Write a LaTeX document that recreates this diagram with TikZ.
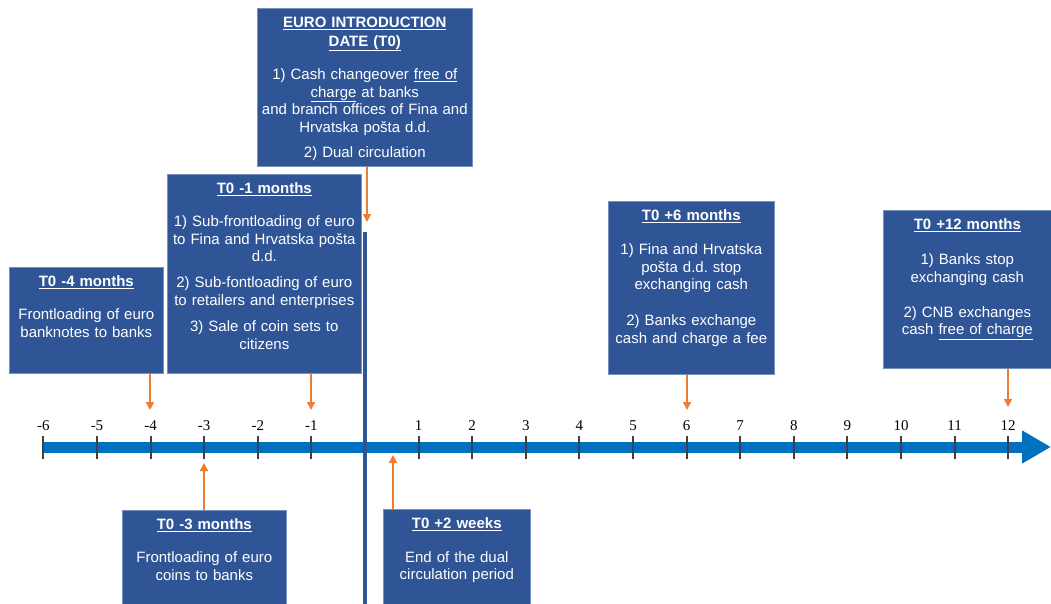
\documentclass[tikz,border=0pt]{standalone}
\usepackage{fontspec}
\setmainfont{Liberation Sans}
\newfontfamily\numfont{Liberation Serif}
\usetikzlibrary{arrows.meta}
\definecolor{azulcaja}{RGB}{47,85,151}
\definecolor{azuleje}{RGB}{0,112,192}
\definecolor{naranja}{RGB}{237,125,49}
\definecolor{gris}{RGB}{64,64,64}
\frenchspacing
\begin{document}
\begin{tikzpicture}[x=1pt,y=-1pt,
    caja/.style={fill=azulcaja,draw=azulcaja!65!white,line width=0.6pt,anchor=north west,inner sep=0pt},
    texto/.style={text=white,align=center,anchor=north,inner sep=0pt,font=\fontsize{15}{17.5}\selectfont},
    aviso/.style={draw=naranja,line width=1.6pt,-{Triangle[length=8pt,width=8pt]}},
    marca/.style={draw=gris,line width=2pt},
    numero/.style={font=\numfont\fontsize{15}{15}\selectfont,text=black,inner sep=0pt}]
\def\paso{53.6}
\def\cero{365}
\useasboundingbox (0,0) rectangle (1051,604);

    %Eje
    \coordinate (ini) at (43,447);
    \coordinate (fin) at (1051,447);
    \draw[azuleje,line width=11pt,-{Triangle[length=29pt,width=31pt]}] (ini) -- (fin);
    \foreach \k [evaluate={\xk=\cero+\k*\paso}] in {-6,...,12}{
        \ifnum\k=0\relax\else
            \draw[marca] (\xk,436) -- (\xk,459);
            \node[numero] (num\k) at (\xk,426) {\k};
        \fi
    }

    %Linea T0
    \draw[azulcaja,line width=4pt] (\cero,232) -- (\cero,604);

    %Cajas
    \node[caja,minimum width=215,minimum height=158] (b0) at (257,8) {};
    \node[texto,text width=211] (t0) at ([yshift=-8.5pt]b0.north) {\textbf{\underline{EURO INTRODUCTION}}\\[1.5pt]
        \textbf{\underline{DATE (T0)}}\\[16pt]
        1) Cash changeover \underline{free of}\\\underline{charge} at banks\\and branch offices of Fina and\\Hrvatska pošta d.d.\\[7.5pt]
        2) Dual circulation};

    \node[caja,minimum width=194,minimum height=199] (b1) at (167,174) {};
    \node[texto,text width=190] (t1) at ([yshift=-8.5pt]b1.north) {\textbf{\underline{T0 -1 months}}\\[15.5pt]
        1) Sub-frontloading of euro\\to Fina and Hrvatska pošta\\d.d.\\[8.5pt]
        2) Sub-fontloading of euro\\to retailers and enterprises\\[9pt]
        3) Sale of coin sets to\\citizens};

    \node[caja,minimum width=154,minimum height=106] (b4) at (9,267) {};
    \node[texto,text width=150] (t4) at ([yshift=-8.5pt]b4.north) {\textbf{\underline{T0 -4 months}}\\[15.5pt]
        Frontloading of euro\\banknotes to banks};

    \node[caja,minimum width=166,minimum height=173] (b6) at (608,201) {};
    \node[texto,text width=162] (t6) at ([yshift=-8.5pt]b6.north) {\textbf{\underline{T0 +6 months}}\\[16.5pt]
        1) Fina and Hrvatska\\pošta d.d. stop\\exchanging cash\\[18.5pt]
        2) Banks exchange\\cash and charge a fee};

    \node[caja,minimum width=168,minimum height=158] (b12) at (883,210) {};
    \node[texto,text width=164] (t12) at ([yshift=-8.5pt]b12.north) {\textbf{\underline{T0 +12 months}}\\[17.5pt]
        1) Banks stop\\exchanging cash\\[17.5pt]
        2) CNB exchanges\\cash \underline{free of charge}};

    \node[caja,minimum width=164,minimum height=100] (b3) at (122,510) {};
    \node[texto,text width=160] (t3) at ([yshift=-8.5pt]b3.north) {\textbf{\underline{T0 -3 months}}\\[15.5pt]
        Frontloading of euro\\coins to banks};

    \node[caja,minimum width=147,minimum height=100] (b2w) at (383,509) {};
    \node[texto,text width=143] (t2w) at ([yshift=-8.5pt]b2w.north) {\textbf{\underline{T0 +2 weeks}}\\[16pt]
        End of the dual\\circulation period};

    %Flechas
    \coordinate (p0) at (367,222);
    \coordinate (p1) at (311,410);
    \coordinate (p4) at (150,410);
    \coordinate (p6) at (687,410);
    \coordinate (p12) at (1008,407);
    \coordinate (p3) at (204,463);
    \coordinate (p2w) at (393,455);
    \draw[aviso] (b0.south -| p0) -- (p0);
    \draw[aviso] (b1.south -| p1) -- (p1);
    \draw[aviso] (b4.south -| p4) -- (p4);
    \draw[aviso] (b6.south -| p6) -- (p6);
    \draw[aviso] (b12.south -| p12) -- (p12);
    \draw[aviso] (b3.north -| p3) -- (p3);
    \draw[aviso] (b2w.north -| p2w) -- (p2w);
\end{tikzpicture}
\end{document}
